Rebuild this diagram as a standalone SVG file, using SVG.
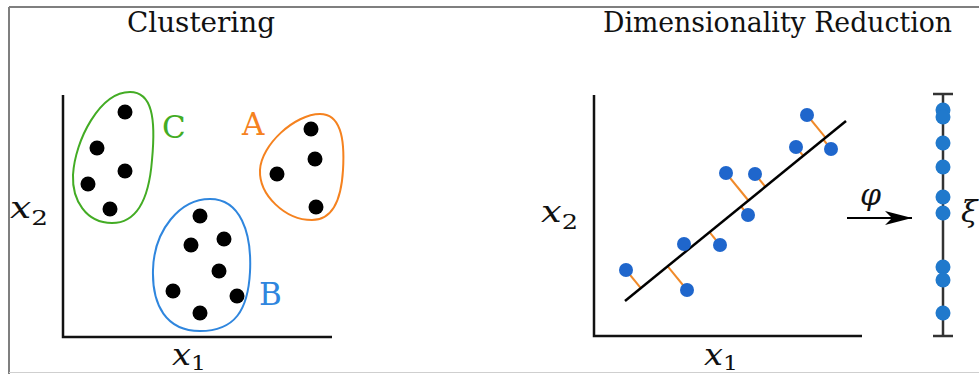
<svg xmlns="http://www.w3.org/2000/svg" width="979" height="374" viewBox="0 0 979 374">
<style>
text{font-family:'DejaVu Serif',serif}
.title{font-size:28px;fill:#111}
.math{font-style:italic;font-size:30px;fill:#111}
.sub{font-style:normal;font-size:21px}
.lab{font-size:31px}
.axis{stroke:#111;stroke-width:2.5;fill:none}
.bd{fill:#000}
.sd{fill:#1f66cc}
.nd{fill:#2079cc}
.proj{stroke:#f08a2a;stroke-width:2}
</style>
<defs>
<marker id="stealth" viewBox="0 0 28 14" refX="27" refY="7" markerWidth="28" markerHeight="14" markerUnits="userSpaceOnUse" orient="auto">
<path d="M0,0 L27,7 L0,14 L7,7 Z" fill="#000"/>
</marker>
</defs>
<rect x="0" y="0" width="979" height="374" fill="#fff"/>
<g id="frame">
<line x1="9" y1="7" x2="979" y2="7" stroke="#7f7f7f" stroke-width="2"/>
<line x1="9" y1="7" x2="9" y2="374" stroke="#7f7f7f" stroke-width="2"/>
<line x1="9" y1="372.5" x2="979" y2="372.5" stroke="#cfcfcf" stroke-width="1"/>
</g>
<g id="clustering">
<text class="title" x="127" y="32" textLength="148" lengthAdjust="spacingAndGlyphs">Clustering</text>
<path class="axis" d="M63,95 V337 H332"/>
<text class="math" x="10" y="218" textLength="38" lengthAdjust="spacingAndGlyphs">x<tspan class="sub" dy="7">2</tspan></text>
<text class="math" x="172" y="365" textLength="34" lengthAdjust="spacingAndGlyphs">x<tspan class="sub" dy="5">1</tspan></text>
<g id="cluster-C">
<path d="M130,92 C152,92 156,118 152,160 C149,198 137,223 112,223 C86,223 72,200 73,175 C75,140 100,92 130,92 Z" fill="none" stroke="#43ac24" stroke-width="2"/>
<circle class="bd" cx="125" cy="112" r="7.5"/><circle class="bd" cx="97" cy="148" r="7.5"/><circle class="bd" cx="125" cy="171" r="7.5"/><circle class="bd" cx="88" cy="184" r="7.5"/><circle class="bd" cx="110" cy="209" r="7.5"/>
<text class="lab" x="162" y="138" fill="#43ac24">C</text>
</g>
<g id="cluster-A">
<path d="M320,114 C340,114 345,137 343,170 C341,205 330,220 312,220 C285,220 259,195 260,170 C261,145 295,114 320,114 Z" fill="none" stroke="#f5821f" stroke-width="2"/>
<circle class="bd" cx="311" cy="129" r="7.5"/><circle class="bd" cx="315" cy="159" r="7.5"/><circle class="bd" cx="277" cy="174" r="7.5"/><circle class="bd" cx="316" cy="207" r="7.5"/>
<text class="lab" x="242" y="135" fill="#f5821f">A</text>
</g>
<g id="cluster-B">
<path d="M210,199 C240,199 252,232 250,272 C248,310 235,331 200,331 C166,331 152,305 153,270 C154,230 180,199 210,199 Z" fill="none" stroke="#2f86de" stroke-width="2"/>
<circle class="bd" cx="200" cy="216" r="7.5"/><circle class="bd" cx="191" cy="245" r="7.5"/><circle class="bd" cx="224" cy="239" r="7.5"/><circle class="bd" cx="219" cy="271" r="7.5"/><circle class="bd" cx="173" cy="291" r="7.5"/><circle class="bd" cx="237" cy="296" r="7.5"/><circle class="bd" cx="200" cy="313" r="7.5"/>
<text class="lab" x="259" y="305" fill="#2f86de">B</text>
</g>
</g>
<g id="dim-reduction">
<text class="title" x="603" y="32" textLength="349" lengthAdjust="spacingAndGlyphs">Dimensionality Reduction</text>
<path class="axis" d="M594,95 V336 H862"/>
<text class="math" x="541" y="222" textLength="37" lengthAdjust="spacingAndGlyphs">x<tspan class="sub" dy="7">2</tspan></text>
<text class="math" x="704" y="365" textLength="34" lengthAdjust="spacingAndGlyphs">x<tspan class="sub" dy="5">1</tspan></text>
<g id="projections">
<line class="proj" x1="626" y1="270" x2="640.8" y2="288.1"/>
<line class="proj" x1="687" y1="290" x2="667.7" y2="266.3"/>
<line class="proj" x1="684" y1="244" x2="688.4" y2="249.4"/>
<line class="proj" x1="720" y1="245" x2="709.5" y2="232.1"/>
<line class="proj" x1="748" y1="215" x2="741.1" y2="206.5"/>
<line class="proj" x1="726" y1="173" x2="748.4" y2="200.5"/>
<line class="proj" x1="755" y1="174" x2="765.3" y2="186.7"/>
<line class="proj" x1="796" y1="147" x2="803.3" y2="155.8"/>
<line class="proj" x1="807" y1="115" x2="825.5" y2="137.7"/>
<line class="proj" x1="831" y1="149" x2="823.3" y2="139.5"/>
</g>
<line id="fit-line" x1="625" y1="301" x2="846" y2="121" stroke="#000" stroke-width="2.5"/>
<g id="scatter">
<circle class="sd" cx="626" cy="270" r="7"/><circle class="sd" cx="687" cy="290" r="7"/><circle class="sd" cx="684" cy="244" r="7"/><circle class="sd" cx="720" cy="245" r="7"/><circle class="sd" cx="748" cy="215" r="7"/><circle class="sd" cx="726" cy="173" r="7"/><circle class="sd" cx="755" cy="174" r="7"/><circle class="sd" cx="796" cy="147" r="7"/><circle class="sd" cx="807" cy="115" r="7"/><circle class="sd" cx="831" cy="149" r="7"/>
</g>
</g>
<g id="connectors">
<line x1="847" y1="218" x2="912" y2="218" stroke="#000" stroke-width="2" marker-end="url(#stealth)"/>
<text class="math" x="860" y="205" font-size="28">φ</text>
</g>
<g id="number-line">
<line x1="943" y1="94" x2="943" y2="336" stroke="#333" stroke-width="2.5"/>
<line x1="933" y1="94" x2="953" y2="94" stroke="#333" stroke-width="2.5"/>
<line x1="933" y1="336" x2="953" y2="336" stroke="#333" stroke-width="2.5"/>
<circle class="nd" cx="943" cy="110" r="7.5"/><circle class="nd" cx="943" cy="117" r="7.5"/><circle class="nd" cx="943" cy="143" r="7.5"/><circle class="nd" cx="943" cy="167" r="7.5"/><circle class="nd" cx="943" cy="197" r="7.5"/><circle class="nd" cx="943" cy="213" r="7.5"/><circle class="nd" cx="943" cy="267" r="7.5"/><circle class="nd" cx="943" cy="280" r="7.5"/><circle class="nd" cx="943" cy="313" r="7.5"/>
<text class="math" x="961" y="222" font-size="28">ξ<tspan class="sub" dy="6">1</tspan></text>
</g>
</svg>
